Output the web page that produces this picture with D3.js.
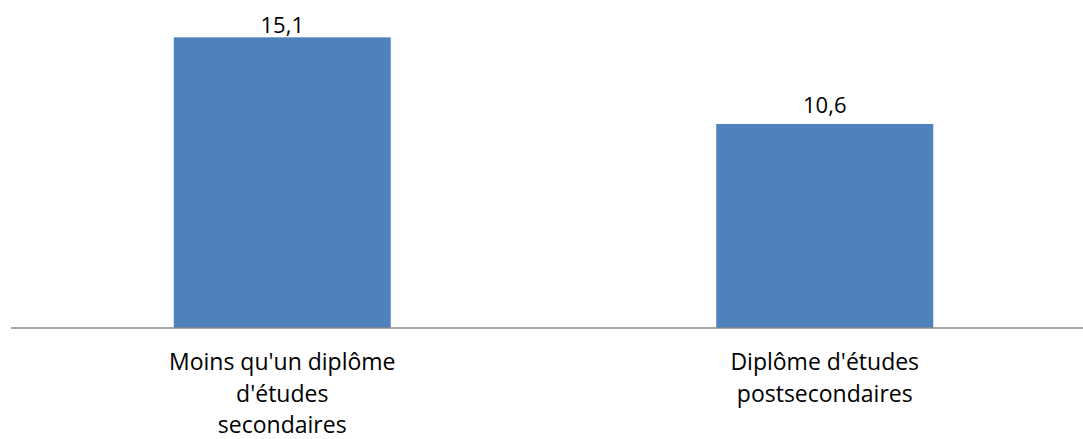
<!DOCTYPE html>
<html>
<head>
<meta charset="utf-8">
<script src="https://cdn.jsdelivr.net/npm/d3@7"></script>
<style>
  body { margin: 0; background: #fff; }
  text { font-family: "Open Sans", sans-serif; fill: #000; }
</style>
</head>
<body>
<svg id="chart"></svg>
<script>
// data
var categories = ["Moins qu'un diplôme d'études secondaires", "Diplôme d'études postsecondaires"];
var values = [15.1, 10.6];
var valueLabels = ["15,1", "10,6"];
var tickLines = [["Moins qu'un diplôme", "d'études", "secondaires"], ["Diplôme d'études", "postsecondaires"]];

var width = 1083, height = 439;
var svg = d3.select("#chart")
  .attr("width", width)
  .attr("height", height);

var x = d3.scaleBand()
  .domain(categories)
  .range([11, 1096])
  .paddingInner(0.6)
  .paddingOuter(0.3);

var y = d3.scaleLinear()
  .domain([0, 16])
  .range([328, 20]);

// bars
svg.selectAll(".bar")
  .data(categories)
  .join("rect")
  .attr("class", "bar")
  .attr("x", function (d) { return x(d); })
  .attr("y", function (d, i) { return y(values[i]); })
  .attr("width", x.bandwidth())
  .attr("height", function (d, i) { return y(0) - y(values[i]); })
  .attr("fill", "#4F81BD");

// baseline
svg.append("line")
  .attr("x1", 11)
  .attr("x2", width)
  .attr("y1", y(0))
  .attr("y2", y(0))
  .attr("stroke", "#888")
  .attr("stroke-width", 1.5);

// value labels
svg.selectAll(".val")
  .data(categories)
  .join("text")
  .attr("class", "val")
  .attr("x", function (d) { return x(d) + x.bandwidth() / 2; })
  .attr("y", function (d, i) { return Math.max(y(values[i]) - 11, 33); })
  .attr("text-anchor", "middle")
  .style("font-size", "22px")
  .text(function (d, i) { return valueLabels[i]; });

// category labels
var ticks = svg.selectAll(".tick-label")
  .data(categories)
  .join("text")
  .attr("class", "tick-label")
  .attr("text-anchor", "middle")
  .style("font-size", "23px");

ticks.selectAll("tspan")
  .data(function (d, i) { return tickLines[i].map(function (t) { return { cat: d, t: t }; }); })
  .join("tspan")
  .attr("x", function (d) { return x(d.cat) + x.bandwidth() / 2; })
  .attr("y", function (d, j) { return 370 + j * 31.5; })
  .text(function (d) { return d.t; });
</script>
</body>
</html>
